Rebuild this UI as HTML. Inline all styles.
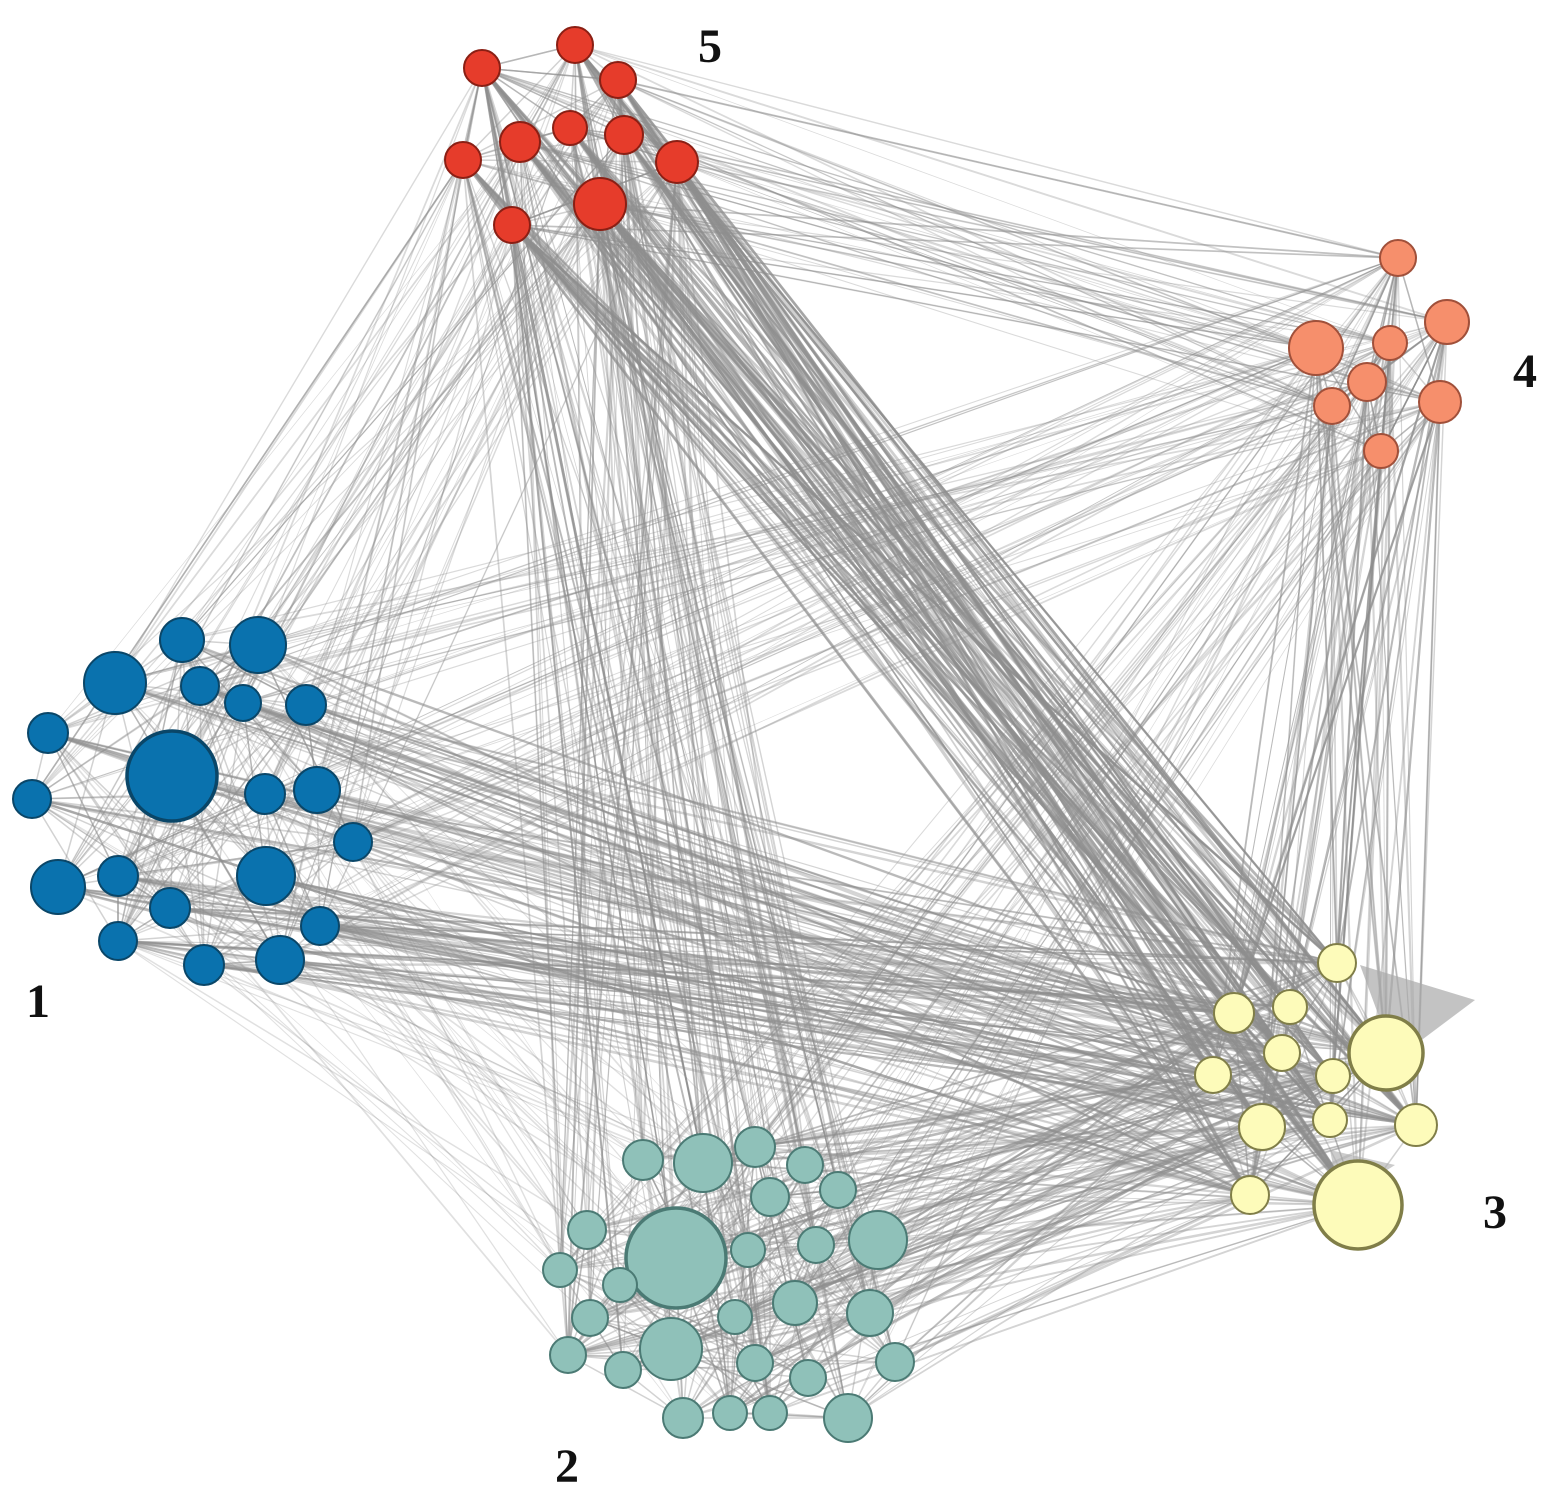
<!DOCTYPE html>
<html><head><meta charset="utf-8"><style>
html,body{margin:0;padding:0;background:#fff}
svg{display:block}
text{font-family:"Liberation Serif",serif;font-weight:bold;font-size:48px;fill:#111}
</style></head><body>
<svg id="s" width="1563" height="1498" viewBox="0 0 1563 1498" xmlns="http://www.w3.org/2000/svg">
<g id="edges"></g>
<polygon points="1360,965 1475,1000 1395,1060" fill="#aaa" opacity="0.7"/>
<polygon points="1330,1150 1395,1165 1340,1200" fill="#aaa" opacity="0.6"/>
<g id="nodes"></g>
<text x="698" y="62">5</text>
<text x="1513" y="387">4</text>
<text x="26" y="1017">1</text>
<text x="555" y="1482">2</text>
<text x="1483" y="1228">3</text>
</svg>
<script>
var C={
5:{f:"#e63c2b",s:"#8a1f14",n:[[482,68,18],[575,45,18],[618,80,18],[520,142,20],[570,128,17],[624,135,19],[677,162,21],[463,160,18],[600,204,26],[512,225,18]]},
4:{f:"#f68f6c",s:"#a0503a",n:[[1398,258,18],[1316,348,27],[1447,322,22],[1390,343,17],[1367,382,19],[1332,406,18],[1440,402,21],[1381,451,17]]},
1:{f:"#0a72ae",s:"#0a4668",n:[[182,640,22],[258,645,28],[115,683,31],[200,686,19],[243,703,18],[306,705,20],[48,733,20],[172,776,45],[317,790,23],[265,794,20],[32,799,19],[353,842,19],[266,876,29],[118,876,20],[58,887,27],[170,908,20],[320,926,19],[118,941,19],[204,965,20],[280,960,24]]},
3:{f:"#fdfbba",s:"#807e48",n:[[1337,963,19],[1290,1007,17],[1386,1053,37],[1234,1013,20],[1282,1053,18],[1213,1075,18],[1333,1076,17],[1262,1127,23],[1330,1120,17],[1416,1125,21],[1358,1205,44],[1250,1195,19]]},
2:{f:"#8fc1b9",s:"#4b7a74",n:[[643,1160,20],[703,1163,29],[755,1147,20],[805,1165,18],[838,1190,18],[770,1197,19],[587,1230,19],[676,1258,50],[878,1240,29],[748,1250,17],[816,1245,18],[560,1270,17],[620,1285,17],[795,1303,22],[870,1313,23],[735,1317,17],[590,1318,18],[671,1349,31],[568,1355,18],[623,1370,18],[755,1363,18],[808,1378,18],[895,1362,19],[683,1418,20],[730,1413,17],[770,1413,17],[848,1418,24]]}
};
var seed=7;function r(){seed=(seed*16807)%2147483647;return seed/2147483647;}
var NS="http://www.w3.org/2000/svg",E=document.getElementById("edges"),N=document.getElementById("nodes");
function pick(k){var a=C[k].n;return a[Math.floor(r()*a.length)];}
function line(a,b,w,o){var l=document.createElementNS(NS,"line");
l.setAttribute("x1",a[0]);l.setAttribute("y1",a[1]);l.setAttribute("x2",b[0]);l.setAttribute("y2",b[1]);
l.setAttribute("stroke","#8f8f8f");l.setAttribute("stroke-width",w);l.setAttribute("stroke-opacity",o);E.appendChild(l);}
var pairs=[[5,3,200,2.2,0.42],[5,2,130,1.5,0.38],[5,1,80,1.3,0.33],[5,4,70,1.3,0.33],[1,3,180,1.8,0.38],[1,4,70,1.2,0.33],[2,3,140,1.8,0.38],[2,4,60,1.2,0.33],[4,3,90,1.6,0.38],[1,2,50,1.2,0.28]];
pairs.forEach(function(p){for(var i=0;i<p[2];i++)line(pick(p[0]),pick(p[1]),p[3]*(0.5+r()),p[4]);});
[1,2,3,4,5].forEach(function(k){var n=C[k].n.length*6;for(var i=0;i<n;i++)line(pick(k),pick(k),1.5,0.4);});
[1,2,3,4,5].forEach(function(k){C[k].n.forEach(function(d){var c=document.createElementNS(NS,"circle");
c.setAttribute("cx",d[0]);c.setAttribute("cy",d[1]);c.setAttribute("r",d[2]);c.setAttribute("fill",C[k].f);
c.setAttribute("stroke",C[k].s);c.setAttribute("stroke-width",d[2]>35?3.5:2);N.appendChild(c);});});
</script>
</body></html>
